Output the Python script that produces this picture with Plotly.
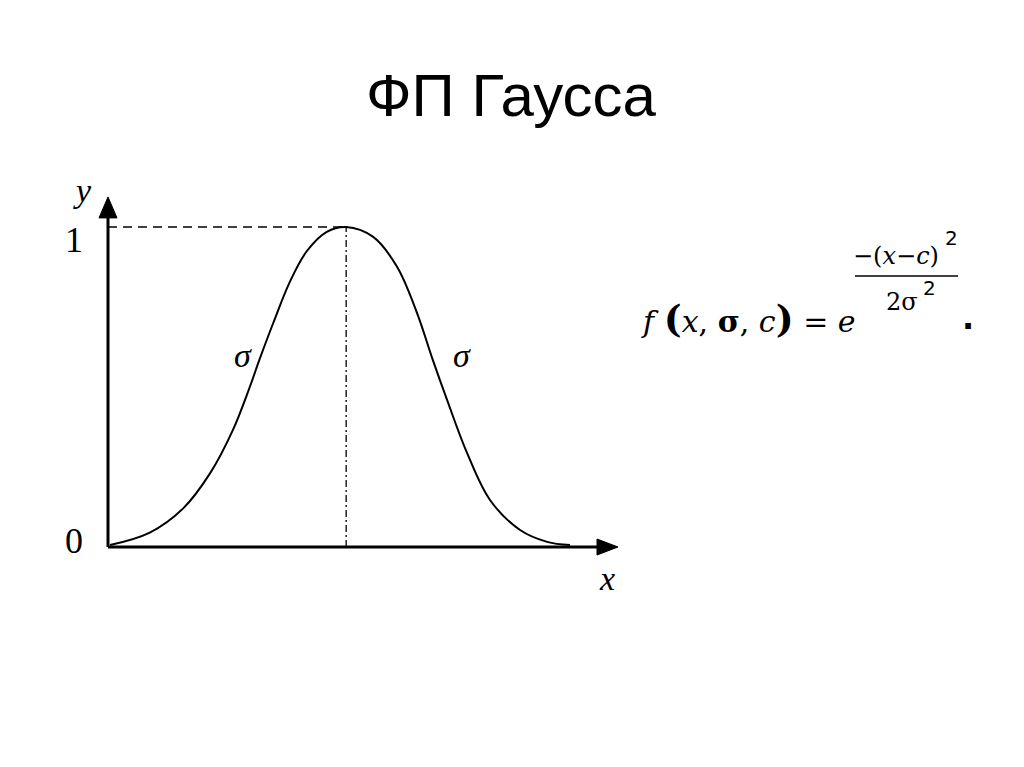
import plotly.graph_objects as go

# ---- data ----
curve_x = [0.04, 0.82, 1.47, 2.00, 2.45, 2.78, 2.98, 3.24, 3.57, 3.90, 4.29, 4.67,
           5.20, 5.67, 6.06, 6.37, 6.65, 7.04, 7.49, 8.08, 8.61, 9.06]
curve_y = [0.006, 0.045, 0.12, 0.23, 0.366, 0.50, 0.59, 0.70, 0.83, 0.925, 0.985, 1.0,
           0.969, 0.875, 0.731, 0.584, 0.459, 0.294, 0.147, 0.053, 0.016, 0.006]
center_c = 4.67
peak = 1.0
x_axis_end = 10.0
y_axis_end = 1.094
tick_labels = ["0", "1"]
tick_values = [0, 1]

# page offset (browser body margin) and pixel scale helpers (layout only)
OFF = 8
PX_X = 51.0    # pixels per x unit
PX_Y = 320.0   # pixels per y unit
X0_PX, Y0_PX = 108 - OFF, 547 - OFF
W, H = 1024 - OFF, 767 - OFF

def dx(p):
    return p / PX_X

def dy(p):
    return p / PX_Y

fig = go.Figure()

# axes lines
fig.add_trace(go.Scatter(x=[0, x_axis_end - dx(18)], y=[0, 0], mode="lines",
                         line=dict(color="black", width=3), hoverinfo="skip"))
fig.add_trace(go.Scatter(x=[0, 0], y=[0, y_axis_end - dy(18)], mode="lines",
                         line=dict(color="black", width=3), hoverinfo="skip"))
# arrowheads
fig.add_trace(go.Scatter(x=[x_axis_end, x_axis_end - dx(21), x_axis_end - dx(21), x_axis_end],
                         y=[0, dy(8), -dy(8), 0], mode="lines", fill="toself",
                         fillcolor="black", line=dict(color="black", width=1), hoverinfo="skip"))
fig.add_trace(go.Scatter(x=[0, dx(9), -dx(9), 0],
                         y=[y_axis_end, y_axis_end - dy(21), y_axis_end - dy(21), y_axis_end],
                         mode="lines", fill="toself", fillcolor="black",
                         line=dict(color="black", width=1), hoverinfo="skip"))

# dashed horizontal to peak
fig.add_trace(go.Scatter(x=[0, center_c], y=[peak, peak], mode="lines",
                         line=dict(color="black", width=1.3, dash="9px,6px"), hoverinfo="skip"))
# dash-dot vertical at centre
fig.add_trace(go.Scatter(x=[center_c, center_c], y=[0, peak], mode="lines",
                         line=dict(color="black", width=1.3, dash="7px,3px,2px,3px"), hoverinfo="skip"))

# gaussian curve
fig.add_trace(go.Scatter(x=curve_x, y=curve_y, mode="lines",
                         line=dict(color="black", width=2, shape="spline", smoothing=1.0),
                         hoverinfo="skip"))

serif = "Liberation Serif"
ann = []

def lab(px, py, text, size=34, family=serif, **kw):
    ann.append(dict(x=dx(px - OFF - X0_PX), y=dy(Y0_PX - (py - OFF)), xref="x", yref="y",
                    text=text, showarrow=False,
                    font=dict(family=family, size=size, color="black"),
                    xanchor="center", yanchor="middle", **kw))

# axis labels
lab(82, 190, "<i>y</i>")
lab(607, 578, "<i>x</i>")
for t, v in zip(tick_labels, tick_values):
    ann.append(dict(x=dx(74 - OFF - X0_PX), y=v + dy(-13 if v == 1 else 6), xref="x", yref="y",
                    text=t, showarrow=False,
                    font=dict(family=serif, size=36, color="black"),
                    xanchor="center", yanchor="middle"))
lab(243, 355, "<i>σ</i>")
lab(462, 355, "<i>σ</i>")

# formula
big = "<span style='font-size:38px'><b>%s</b></span>"
lab(748, 318,
    "<i>f</i> " + big % "(" + "<i>x</i>, <b>σ</b>, <i>c</i>" + big % ")" + " = <i>e</i>",
    size=30, family="DejaVu Serif")
lab(896, 256, "−(<i>x</i>−<i>c</i>)", size=24, family="DejaVu Serif")
lab(951, 238, "2", size=20, family="DejaVu Sans")
lab(902, 302, "2σ", size=24, family="DejaVu Serif")
lab(929, 288, "2", size=20, family="DejaVu Sans")
lab(968, 318, "<b>.</b>", size=32, family="DejaVu Sans")

# title
ann.append(dict(x=0.5 - 5 / W, y=1 - (96 - OFF) / H, xref="paper", yref="paper",
                text="ФП Гаусса", showarrow=False,
                font=dict(family="Liberation Sans", size=60, color="black"),
                xanchor="center", yanchor="middle"))

fig.update_layout(annotations=ann)

# fraction bar
fig.add_shape(type="line", x0=dx(855 - OFF - X0_PX), x1=dx(958 - OFF - X0_PX),
              y0=dy(Y0_PX - (276 - OFF)), y1=dy(Y0_PX - (276 - OFF)), xref="x", yref="y",
              line=dict(color="black", width=1.5))

fig.update_layout(
    width=W, height=H,
    margin=dict(l=0, r=0, t=0, b=0),
    paper_bgcolor="white", plot_bgcolor="white",
    showlegend=False,
    xaxis=dict(range=[dx(-X0_PX), dx(W - X0_PX)], visible=False, fixedrange=True),
    yaxis=dict(range=[dy(Y0_PX - H), dy(Y0_PX)], visible=False, fixedrange=True),
)

fig.write_html("out.html", config={"displayModeBar": False})
